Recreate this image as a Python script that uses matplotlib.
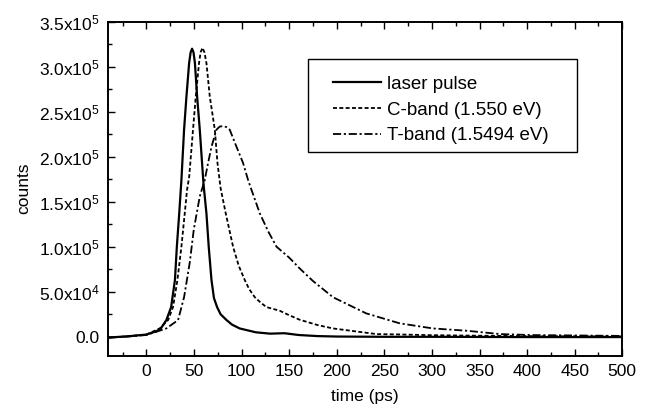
import matplotlib
matplotlib.use("Agg")
import matplotlib.pyplot as plt
from matplotlib.patches import Rectangle
from matplotlib.ticker import MultipleLocator, FuncFormatter
import numpy as np

plt.rcParams["font.family"] = ["Liberation Sans", "DejaVu Sans"]
plt.rcParams["mathtext.fontset"] = "custom"
plt.rcParams["mathtext.rm"] = "Liberation Sans"
plt.rcParams["mathtext.it"] = "Liberation Sans:italic"
plt.rcParams["mathtext.bf"] = "Liberation Sans:bold"

# Time-resolved photoluminescence traces (time in ps, counts)
laser_t = [-40, -20, 0, 10, 15, 21, 26, 30, 32, 34.5, 36.8, 39.6, 42.1, 44.9, 46.5,
           48, 49.5, 51, 53.3, 56.1, 60, 63.1, 65.5, 68.4, 71, 74.3, 78, 84.2, 90,
           98, 115, 130, 145, 160, 180, 200, 250, 300, 400, 500]
laser_counts = [-800, 500, 2500, 6000, 9000, 18600, 33000, 63000, 100000, 137000,
                174000, 230000, 267000, 304000, 316000, 320000, 316000, 304000,
                267000, 230000, 170000, 137000, 100000, 63000, 43000, 33000, 25000,
                18600, 13500, 9300, 5000, 3500, 4000, 2000, 800, 300, 0, 0, -300,
                -300]

cband_t = [-40, -20, 0, 14, 22.8, 28, 32.6, 36.8, 40.3, 42.7, 45, 49, 51.9, 55.3,
           57, 58.9, 61, 63.1, 66.6, 71.9, 74.7, 78, 83.4, 91.1, 97, 103.4, 108,
           113.9, 120, 126.2, 133, 140, 150, 161, 180, 196, 220, 242, 266, 300,
           350, 400, 450, 500]
cband_counts = [-800, 500, 2500, 9300, 18600, 33000, 63000, 100000, 137000, 163000,
                178000, 230000, 267000, 304000, 316000, 321000, 316000, 304000,
                267000, 230000, 193000, 165000, 137000, 100000, 79000, 63000, 53000,
                44000, 38000, 33000, 31000, 29000, 24000, 19000, 13000, 9300, 6000,
                3000, 2600, 1800, 1200, 800, 500, 500]

tband_t = [-40, -20, 0, 10.5, 21, 33.3, 39.6, 45.5, 49.8, 56.1, 61.3, 64.8, 68.4,
           73.6, 77, 80.6, 84, 87.6, 94.7, 101.6, 106.9, 110.5, 119.2, 128, 136.8,
           150, 161, 175, 196, 231, 266, 301, 337, 372, 406, 450, 500]
tband_counts = [-800, 300, 2000, 5600, 9300, 18600, 44000, 82000, 119000, 156000,
                174000, 193000, 211000, 230000, 233500, 234000, 233000, 230000,
                211000, 193000, 174000, 163000, 137000, 117000, 100000, 88000, 76000,
                62000, 44000, 26000, 15000, 9300, 6700, 3000, 1900, 1500, 1000]

series_labels = ["laser pulse", "C-band (1.550 eV)", "T-band (1.5494 eV)"]

fig = plt.figure(figsize=(6.47, 4.13), dpi=100)
ax = fig.add_axes([0.1674, 0.1387, 0.7944, 0.8088])

ax.plot(laser_t, laser_counts, color="black", lw=1.6, ls="-", label=series_labels[0])
ax.plot(cband_t, cband_counts, color="black", lw=1.3, ls=(0, (2.2, 1.3)),
        label=series_labels[1])
ax.plot(tband_t, tband_counts, color="black", lw=1.3, ls=(0, (4.5, 1.5, 1.2, 1.5)),
        label=series_labels[2])

ax.set_xlim(-40, 500)
ax.set_ylim(-21000, 350000)

ax.xaxis.set_major_locator(MultipleLocator(50))
ax.xaxis.set_minor_locator(MultipleLocator(25))
ax.yaxis.set_major_locator(MultipleLocator(50000))
ax.yaxis.set_minor_locator(MultipleLocator(25000))


def sci_label(v, pos):
    if abs(v) < 1e-9:
        return "0.0"
    e = int(np.floor(np.log10(abs(v))))
    m = v / 10 ** e
    return f"{m:.1f}x10$^{{{e}}}$"


ax.yaxis.set_major_formatter(FuncFormatter(sci_label))

ax.tick_params(which="both", direction="in", top=True, right=False,
               labelsize=12.5, width=1.0)
ax.tick_params(which="major", length=5, pad=6)
ax.tick_params(which="minor", length=2.8)
for s in ax.spines.values():
    s.set_linewidth(1.4)

ax.set_xlabel("time (ps)", fontsize=12.5, labelpad=7)
ax.set_ylabel("counts", fontsize=12.5, labelpad=6)

# legend frame drawn as a separate box so its padding can differ per side
ax.add_patch(Rectangle((0.389, 0.609), 0.522, 0.2784, transform=ax.transAxes,
                       facecolor="white", edgecolor="black", lw=1.0, zorder=4))
leg = ax.legend(loc="upper left", bbox_to_anchor=(0.437, 0.838), borderaxespad=0,
                fontsize=13.5, frameon=False, handlelength=2.56,
                handletextpad=0.32, labelspacing=0.46, borderpad=0)
leg.set_zorder(5)

fig.savefig("out.png", dpi=100)
